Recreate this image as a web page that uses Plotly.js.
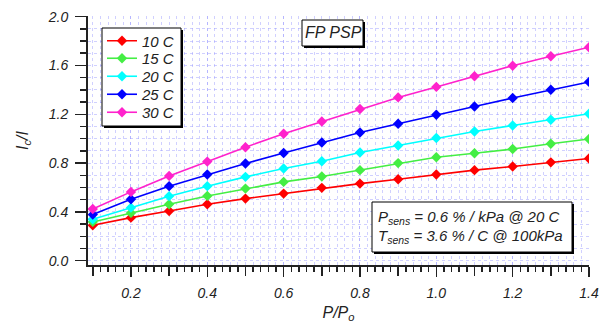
<!DOCTYPE html>
<html><head><meta charset="utf-8">
<script src="https://cdn.plot.ly/plotly-3.0.1.min.js"></script>
<style>html,body{margin:0;padding:0;background:#fff}#chart{width:600px;height:324px}</style>
</head><body><div id="chart"></div>
<script>
const pRatio = [0.1,0.2,0.3,0.4,0.5,0.6,0.7,0.8,0.9,1.0,1.1,1.2,1.3,1.4];
const seriesNames = ['10 C','15 C','20 C','25 C','30 C'];
const t10 = [0.290,0.353,0.408,0.463,0.509,0.550,0.597,0.632,0.668,0.706,0.742,0.772,0.806,0.838];
const t15 = [0.318,0.392,0.463,0.531,0.591,0.646,0.690,0.742,0.800,0.848,0.880,0.915,0.958,0.997];
const t20 = [0.340,0.435,0.529,0.611,0.687,0.755,0.815,0.887,0.944,1.005,1.059,1.108,1.155,1.204];
const t25 = [0.378,0.504,0.611,0.706,0.797,0.882,0.969,1.051,1.122,1.196,1.264,1.333,1.401,1.465];
const t30 = [0.424,0.564,0.695,0.812,0.930,1.040,1.141,1.243,1.338,1.424,1.511,1.598,1.675,1.749];
const seriesColors = ['#ff0000','#44ee44','#00ffff','#0000ff','#ff22cc'];
const xLabelVals = [0.2,0.4,0.6,0.8,1.0,1.2,1.4];
const xLabelText = ['0.2','0.4','0.6','0.8','1.0','1.2','1.4'];
const xOddMajor = [0.1,0.3,0.5,0.7,0.9,1.1,1.3];

// pixel helpers for the plot area (left 88, top 16, width 501, height 249)
const px = v => (v-88)/501, py = v => (265-v)/249;

const allY = [t10,t15,t20,t25,t30];
const legendRows = [41, 58.5, 76.5, 94.5, 112.5];
const legNames = ['legend','legend2','legend3','legend4','legend5'];
const traces = allY.map((ys,i)=>({
  x: pRatio, y: ys, name: seriesNames[i], type:'scatter', mode:'lines+markers',
  legend: legNames[i],
  line:{color:seriesColors[i], width:1.6},
  marker:{symbol:'diamond', size:8, color:seriesColors[i]}
}));
// empty trace so the overlaid tick axis exists
traces.push({x:[], y:[], xaxis:'x2', yaxis:'y', type:'scatter', mode:'markers', showlegend:false, hoverinfo:'skip'});

const fnt = {family:'Liberation Sans, Arial, sans-serif', size:14, color:'#222', style:'italic'};
const fnt15 = {family:'Liberation Sans, Arial, sans-serif', size:15, color:'#222', style:'italic'};
const fnt16 = {family:'Liberation Sans, Arial, sans-serif', size:16, color:'#222', style:'italic'};
const legFont = {family:'Liberation Sans, Arial, sans-serif', size:15, color:'#222', style:'italic'};
const gridCol = 'rgba(150,150,255,0.45)';
function box(x0,y0,x1,y1){
  return [
    {type:'rect', xref:'paper', yref:'paper', layer:'above', x0:px(x0+2), x1:px(x1+2), y0:py(y0+2), y1:py(y1+2), fillcolor:'#000', line:{width:0}},
    {type:'rect', xref:'paper', yref:'paper', layer:'above', x0:px(x0), x1:px(x1), y0:py(y0), y1:py(y1), fillcolor:'#fff', line:{color:'#000', width:1}}
  ];
}
const shapes = [].concat(box(102,28,181,126), box(302,20,363,46), box(372,202,572,252));

const layout = {
  width:600, height:324,
  margin:{l:88, r:11, t:16, b:59},
  paper_bgcolor:'#fff', plot_bgcolor:'#fff',
  showlegend:true,
  xaxis:{
    range:[0.0875,1.4], tickmode:'array', tickvals:xLabelVals, ticktext:xLabelText,
    ticks:'outside', ticklen:10, tickwidth:1.5, tickcolor:'#222',
    showline:true, linecolor:'#222', linewidth:2, zeroline:false,
    showgrid:true, gridcolor:gridCol, griddash:'dot', gridwidth:1,
    minor:{dtick:0.02, tick0:0, ticks:'outside', ticklen:5, tickwidth:1.5, tickcolor:'#222', showgrid:true, gridcolor:gridCol, griddash:'dot', gridwidth:1},
    tickfont:fnt, ticklabelstandoff:4,
    title:{text:'P/P<sub>o</sub>', font:fnt16, standoff:7}
  },
  xaxis2:{
    overlaying:'x', anchor:'y', side:'bottom', matches:'x', range:[0.0875,1.4],
    tickmode:'array', tickvals:xOddMajor, showticklabels:false,
    ticks:'outside', ticklen:10, tickwidth:1.5, tickcolor:'#222',
    showline:false, showgrid:false, zeroline:false
  },
  yaxis:{
    range:[-0.035,2.005], tickmode:'linear', tick0:0, dtick:0.4, tickformat:'.1f',
    ticks:'outside', ticklen:11, tickwidth:1.5, tickcolor:'#222',
    showline:true, linecolor:'#222', linewidth:2, zeroline:false,
    showgrid:true, gridcolor:gridCol, griddash:'dot', gridwidth:1,
    minor:{dtick:0.1, tick0:0, ticks:'outside', ticklen:6, tickwidth:1.5, tickcolor:'#222', showgrid:true, gridcolor:gridCol, griddash:'dot', gridwidth:1},
    tickfont:fnt, ticklabelstandoff:4,
    title:{text:'I<sub>c</sub>/I', font:fnt16, standoff:15}
  },
  shapes: shapes,
  annotations:[
    {xref:'paper', yref:'paper', x:px(333), y:py(33), xanchor:'center', yanchor:'middle', showarrow:false,
     text:'FP PSP', font:fnt16},
    {xref:'paper', yref:'paper', x:px(376), y:py(217), xanchor:'left', yanchor:'middle', showarrow:false, align:'left',
     text:'P<sub>sens</sub> = 0.6 % / kPa @ 20 C', font:fnt15},
    {xref:'paper', yref:'paper', x:px(376), y:py(236), xanchor:'left', yanchor:'middle', showarrow:false, align:'left',
     text:'T<sub>sens</sub> = 3.6 % / C @ 100kPa', font:fnt15}
  ]
};
legNames.forEach((ln,i)=>{
  layout[ln] = {x:px(102), y:py(legendRows[i]), xanchor:'left', yanchor:'middle',
    bgcolor:'rgba(0,0,0,0)', borderwidth:0, font:legFont};
});
Plotly.newPlot('chart', traces, layout, {displayModeBar:false, staticPlot:true});
</script></body></html>
